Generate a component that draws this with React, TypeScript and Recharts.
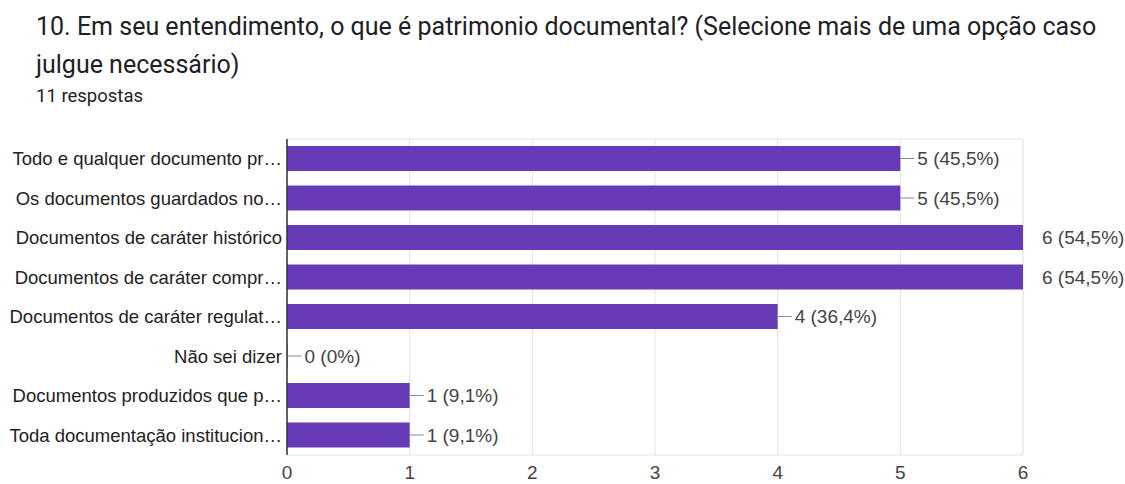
import { BarChart, Bar, XAxis, YAxis, CartesianGrid, LabelList } from "recharts";

const TITLE_LINE_1 =
  "10. Em seu entendimento, o que é patrimonio documental? (Selecione mais de uma opção caso";
const TITLE_LINE_2 = "julgue necessário)";
const SUBTITLE = "11 respostas";

const categories = [
  "Todo e qualquer documento pr…",
  "Os documentos guardados no…",
  "Documentos de caráter histórico",
  "Documentos de caráter compr…",
  "Documentos de caráter regulat…",
  "Não sei dizer",
  "Documentos produzidos que p…",
  "Toda documentação institucion…",
];
const counts = [5, 5, 6, 6, 4, 0, 1, 1];
const percents = ["45,5%", "45,5%", "54,5%", "54,5%", "36,4%", "0%", "9,1%", "9,1%"];
const xTicks = [0, 1, 2, 3, 4, 5, 6];
const minorTicks = [0.5, 1.5, 2.5, 3.5, 4.5, 5.5];

const data = categories.map((name, i) => ({
  name,
  value: counts[i],
  label: `${counts[i]} (${percents[i]})`,
}));

const maxCount = Math.max(...counts);
const PURPLE = "#673AB7";
const CHART_FONT = "'Liberation Sans', Arial, sans-serif";

function BarValueLabel(props: any) {
  const { x, y, width, height, value } = props;
  const entry = data.find((d) => d.label === value);
  const end = Number(x) + Number(width);
  const cy = Number(y) + Number(height) / 2;
  if (entry && entry.value === maxCount) {
    return (
      <text x={end + 19} y={cy} dy="0.35em" fontSize={19} fill="#444" fontFamily={CHART_FONT}>
        {value}
      </text>
    );
  }
  return (
    <g>
      <line x1={end} x2={end + 14} y1={cy} y2={cy} stroke="#888" strokeWidth={1} />
      <text x={end + 17} y={cy} dy="0.35em" fontSize={19} fill="#444" fontFamily={CHART_FONT}>
        {value}
      </text>
    </g>
  );
}

export default function App() {
  return (
    <div
      style={{
        position: "absolute",
        left: 0,
        top: 0,
        width: 1125,
        height: 484,
        background: "#fff",
        overflow: "hidden",
      }}
    >
      {/* question title */}
      <div
        style={{
          position: "absolute",
          left: 36,
          top: 8,
          fontFamily: "Roboto, sans-serif",
          fontSize: 25,
          lineHeight: "38px",
          color: "#202124",
          whiteSpace: "nowrap",
        }}
      >
        <div>{TITLE_LINE_1}</div>
        <div>{TITLE_LINE_2}</div>
      </div>
      <div
        style={{
          position: "absolute",
          left: 36,
          top: 85,
          fontFamily: "Roboto, sans-serif",
          fontSize: 18.5,
          color: "#202124",
        }}
      >
        {SUBTITLE}
      </div>

      <BarChart
        width={1125}
        height={484}
        data={data}
        layout="vertical"
        barSize={25}
        margin={{ top: 139, right: 102, left: 0, bottom: 0 }}
      >
        <CartesianGrid xAxisId="minor" horizontal={false} stroke="#f3f3f3" />
        <CartesianGrid
          stroke="#e4e4e4"
          horizontalCoordinatesGenerator={({ offset }: any) => [
            offset.top,
            offset.top + offset.height,
          ]}
        />
        <XAxis xAxisId="minor" type="number" domain={[0, 6]} ticks={minorTicks} hide />
        <XAxis
          type="number"
          domain={[0, 6]}
          ticks={xTicks}
          axisLine={false}
          tickLine={false}
          tickSize={0}
          tickMargin={11}
          height={29}
          tick={{ fontSize: 19, fill: "#444", fontFamily: CHART_FONT }}
        />
        <YAxis
          type="category"
          dataKey="name"
          width={287}
          axisLine={{ stroke: "#333", strokeWidth: 1.5 }}
          tickLine={false}
          tickSize={0}
          tickMargin={5}
          interval={0}
          tick={{ fontSize: 18.5, fill: "#222", fontFamily: CHART_FONT }}
        />
        <Bar dataKey="value" fill={PURPLE} minPointSize={0.5} isAnimationActive={false}>
          <LabelList dataKey="label" content={<BarValueLabel />} />
        </Bar>
      </BarChart>
    </div>
  );
}
